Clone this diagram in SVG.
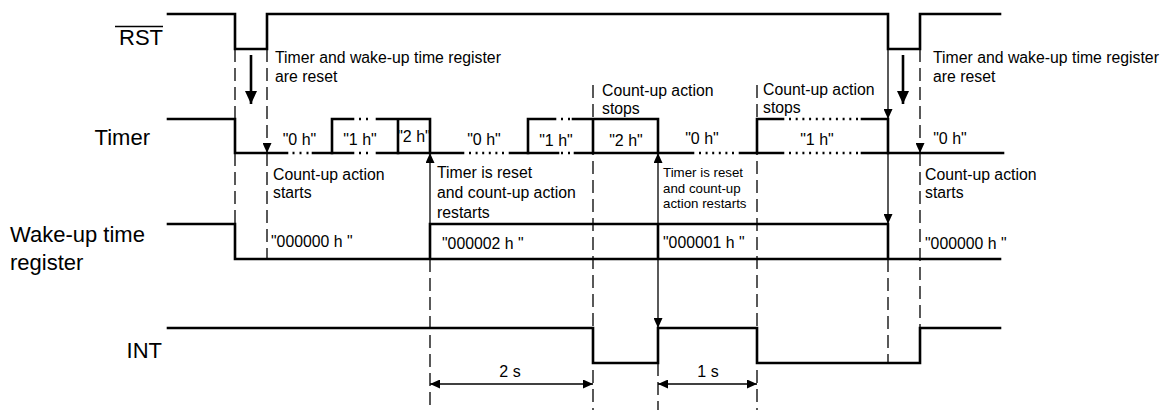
<svg xmlns="http://www.w3.org/2000/svg" width="1162" height="410" viewBox="0 0 1162 410">
<style>
text{font-family:"Liberation Sans",Arial,sans-serif;fill:#000}
.lbl{font-size:22px}
.ann{font-size:15.8px}
.sm{font-size:13.3px}
.val{font-size:16px;text-anchor:middle}
.sig{fill:none;stroke:#000;stroke-width:2.6;stroke-linejoin:miter;stroke-linecap:square}
.dot{fill:none;stroke:#000;stroke-width:2.6;stroke-dasharray:2 5}
.dot6{fill:none;stroke:#000;stroke-width:2.6;stroke-dasharray:2 4.6}
.dash{fill:none;stroke:#000;stroke-width:1.3;stroke-dasharray:13 6}
.thin{fill:none;stroke:#000;stroke-width:1.3}
.thick{fill:none;stroke:#000;stroke-width:2.6}
</style>
<defs>
<marker id="ah" markerUnits="userSpaceOnUse" markerWidth="10" markerHeight="9" refX="10" refY="4.5" orient="auto-start-reverse">
<path d="M0,0 L10,4.5 L0,9 z" fill="#000"/>
</marker>
<marker id="ahb" markerUnits="userSpaceOnUse" markerWidth="13" markerHeight="12" refX="13" refY="6" orient="auto">
<path d="M0,0 L13,6 L0,12 z" fill="#000"/>
</marker>
</defs>

<g id="rst">
<text class="lbl" x="163" y="45" text-anchor="end">RST</text>
<line x1="115" y1="26.5" x2="163" y2="26.5" stroke="#000" stroke-width="1.4"/>
<path class="sig" d="M168,14 H235 V49 H267 V14 H888 V49 H920 V14 H1000"/>
</g>

<g id="timer">
<text class="lbl" x="150" y="145" text-anchor="end">Timer</text>
<path class="sig" d="M168,119 H235 V153 H287 M313,153 H353 M377,153 H463 M510,153 H558 M575,153 H693 M740,153 H783 M862,153 H1003"/>
<path class="dot" d="M292.5,153 H310 M359,153 H369 M561,153 H571 M359,119 H369 M561,119 H571"/>
<path class="dot6" d="M469,153 H506 M699,153 H736"/>
<path class="dot" d="M789,153 H861 M789,119 H861" style="stroke-dasharray:2 4.7"/>
<path class="sig" d="M332,153 V119 H353 M377,119 H430 V153 M398,119 V153"/>
<path class="sig" d="M528,153 V119 H555 M573,119 H658 V153 M593,119 V153"/>
<path class="sig" d="M757,153 V119 H783 M862,119 H888 V153"/>
<text class="val" x="299.5" y="145">"0 h"</text>
<text class="val" x="360" y="145">"1 h"</text>
<text class="val sm" x="414" y="142">"2 h"</text>
<text class="val" x="484" y="145">"0 h"</text>
<text class="val" x="556" y="146">"1 h"</text>
<text class="val" x="626" y="146">"2 h"</text>
<text class="val" x="702" y="144">"0 h"</text>
<text class="val" x="817" y="145">"1 h"</text>
<text class="val" x="950" y="144">"0 h"</text>
</g>

<g id="wakeup">
<text class="lbl" x="10" y="242">Wake-up time</text>
<text class="lbl" x="10" y="270">register</text>
<path class="sig" d="M168,224 H235 V259 H1000 M430,259 V224 H888 V259 M658,224 V259"/>
<text class="ann" x="271" y="247">"000000 h "</text>
<text class="ann" x="442" y="249">"000002 h "</text>
<text class="ann" x="663" y="248">"000001 h "</text>
<text class="ann" x="925" y="249">"000000 h "</text>
</g>

<g id="int">
<text class="lbl" x="162" y="358" text-anchor="end">INT</text>
<path class="sig" d="M168,328 H593 V363 H658 V328 H757 V363 H920 V328 H1000"/>
</g>

<g id="notes">
<text class="ann" x="275" y="63">Timer and wake-up time register</text>
<text class="ann" x="275" y="82">are reset</text>
<text class="ann" x="933" y="63">Timer and wake-up time register</text>
<text class="ann" x="933" y="82">are reset</text>
<text class="ann" x="273" y="180">Count-up action</text>
<text class="ann" x="273" y="198">starts</text>
<text class="ann" x="437" y="178">Timer is reset</text>
<text class="ann" x="437" y="198">and count-up action</text>
<text class="ann" x="437" y="218">restarts</text>
<text class="ann" x="602" y="96">Count-up action</text>
<text class="ann" x="602" y="114">stops</text>
<text class="ann" x="763" y="95">Count-up action</text>
<text class="ann" x="763" y="113">stops</text>
<text class="sm" x="663" y="177">Timer is reset</text>
<text class="sm" x="663" y="192.5">and count-up</text>
<text class="sm" x="663" y="208">action restarts</text>
<text class="ann" x="925" y="180">Count-up action</text>
<text class="ann" x="925" y="198">starts</text>
<text class="val" x="510" y="377">2 s</text>
<text class="val" x="708" y="377">1 s</text>
</g>

<g id="connectors">
<path class="dash" d="M235,49 V119 M235,153 V224"/>
<path class="dash" d="M267,49 V153" marker-end="url(#ah)"/>
<path class="dash" d="M267,153 V259"/>
<path class="dash" d="M430,259 V410"/>
<path class="dash" d="M593,85 V410"/>
<path class="dash" d="M658,363 V410"/>
<path class="dash" d="M757,85 V410"/>
<path class="dash" d="M888,259 V363"/>
<path class="dash" d="M920,49 V153" marker-end="url(#ah)"/>
<path class="dash" d="M920,153 V328"/>
<path class="thin" d="M430,224 V153" marker-end="url(#ah)"/>
<path class="thin" d="M658,153 V328" marker-start="url(#ah)" marker-end="url(#ah)"/>
<path class="thin" d="M888,49 V119" marker-end="url(#ah)"/>
<path class="thin" d="M888,153 V224" marker-end="url(#ah)"/>
<path class="thick" d="M251,55 V104" marker-end="url(#ahb)"/>
<path class="thick" d="M903,55 V104" marker-end="url(#ahb)"/>
<path class="thin" d="M430,384 H593" marker-start="url(#ah)" marker-end="url(#ah)"/>
<path class="thin" d="M658,384 H757" marker-start="url(#ah)" marker-end="url(#ah)"/>
</g>
</svg>
